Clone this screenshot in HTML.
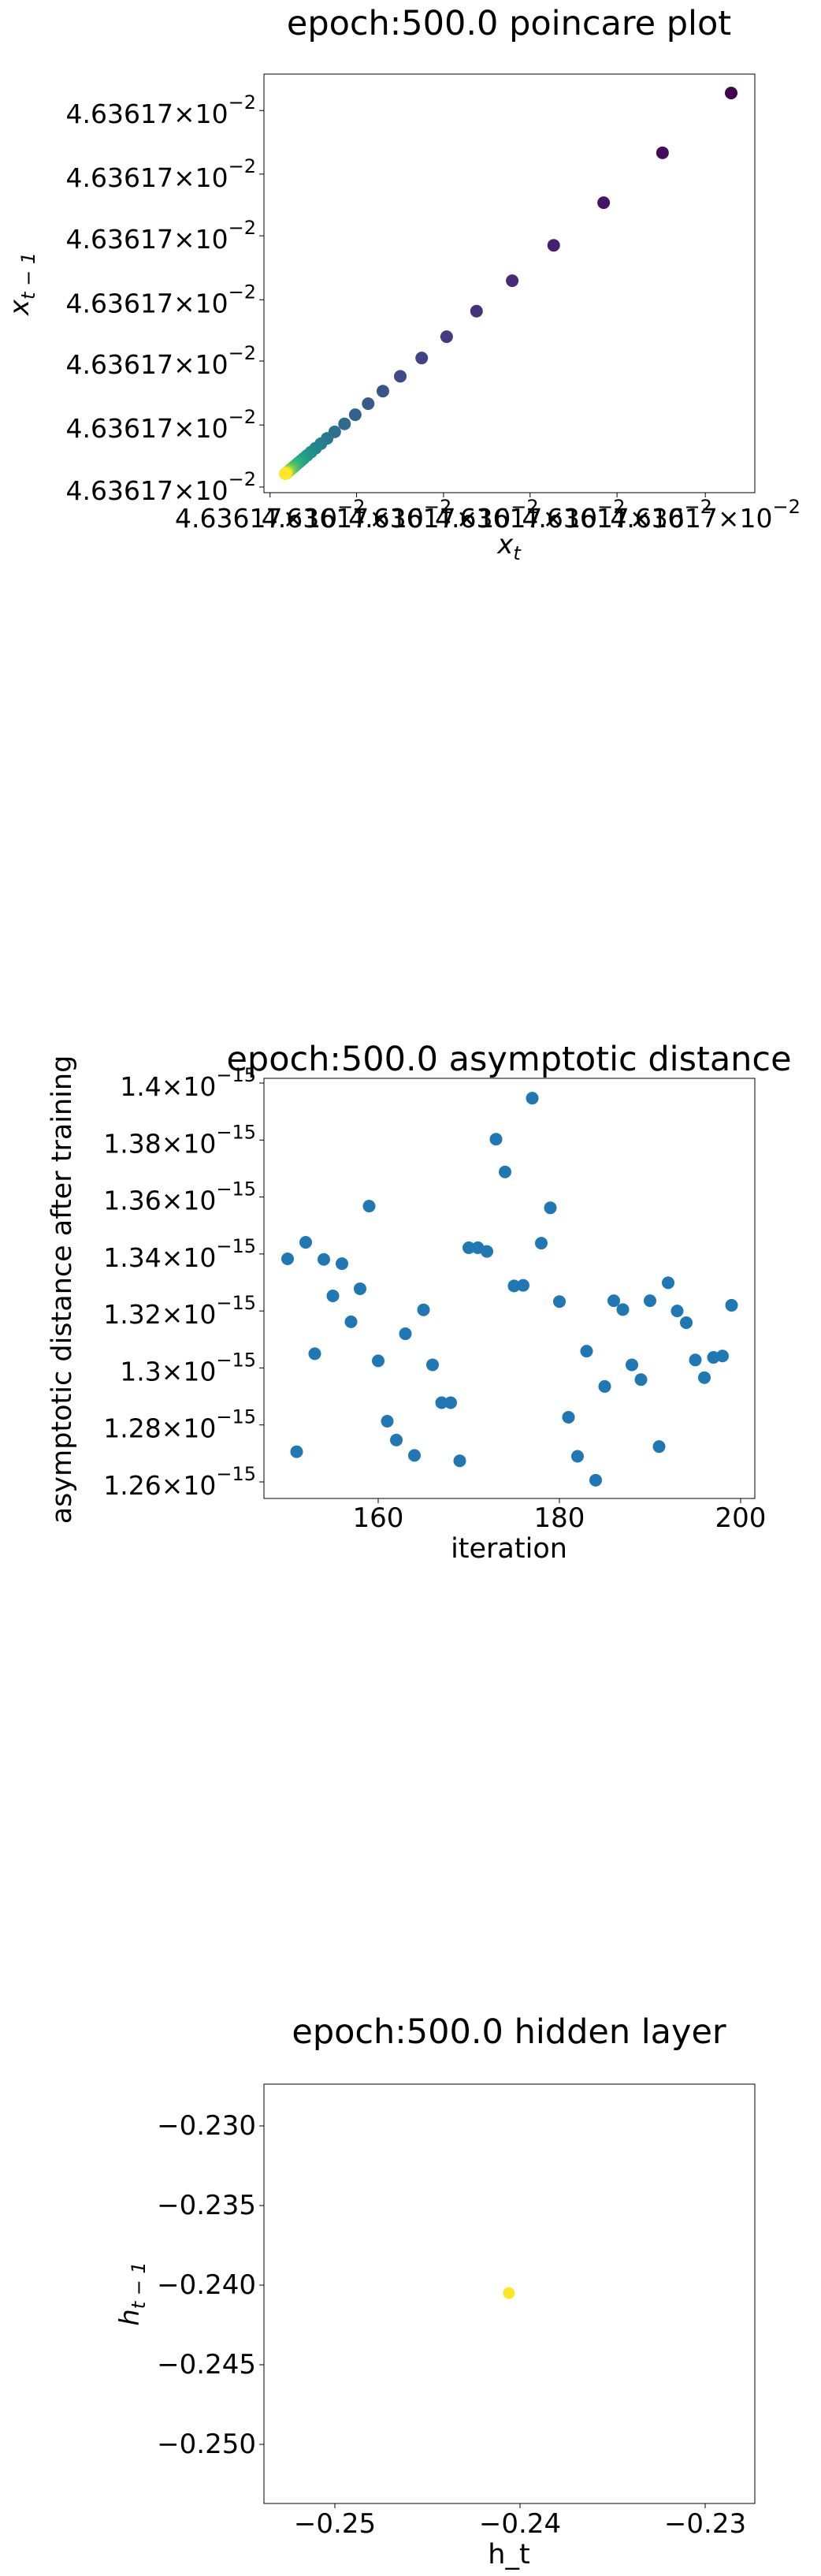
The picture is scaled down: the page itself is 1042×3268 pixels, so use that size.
<!DOCTYPE html>
<html><head><meta charset="utf-8"><style>
body{margin:0;background:#fff;}
svg{display:block;font-family:"DejaVu Sans","Liberation Sans",sans-serif;}
</style></head><body>
<svg id="fig" width="1042" height="3268" viewBox="0 0 1042 3268" xmlns="http://www.w3.org/2000/svg">
<rect width="1042" height="3268" fill="#fff"/>
<g id="p1"></g>
<g id="p2"></g>
<g id="p3"></g>
</svg>
<script>
// Plot 1 data (relative offsets of x_t within plotted range)
const poincareX = [1,0.846,0.714,0.602,0.509,0.429,0.362,0.306,0.258,0.219,0.186,0.157,0.133,0.111,0.094,0.08,0.068,0.058,0.049,0.041,0.035,0.03,0.025,0.021,0.018,0.015,0.012,0.01,0.008,0.006,0.005,0.004,0.003,0.002,0.001,0];
const poincareY = [1,0.843,0.712,0.6,0.507,0.427,0.36,0.304,0.256,0.217,0.184,0.155,0.131,0.11,0.093,0.079,0.067,0.057,0.048,0.04,0.034,0.029,0.024,0.02,0.017,0.014,0.011,0.009,0.007,0.005,0.004,0.003,0.002,0.001,0.0005,0];
const poincareXTicks = [-0.034,0.16,0.355,0.549,0.744,0.942];
const poincareYTicks = [0.954,0.787,0.625,0.457,0.296,0.128,-0.035];
// Plot 2 data
const iterations = [150,151,152,153,154,155,156,157,158,159,160,161,162,163,164,165,166,167,168,169,170,171,172,173,174,175,176,177,178,179,180,181,182,183,184,185,186,187,188,189,190,191,192,193,194,195,196,197,198,199];
const distances = [1.3383,1.2706,1.3441,1.3050,1.3381,1.3253,1.3366,1.3162,1.3278,1.3568,1.3025,1.2813,1.2747,1.3120,1.2693,1.3204,1.3011,1.2878,1.2878,1.2674,1.3422,1.3422,1.3409,1.3803,1.3688,1.3288,1.3290,1.3947,1.3438,1.3562,1.3233,1.2827,1.2690,1.3059,1.2606,1.2935,1.3236,1.3205,1.3011,1.2959,1.3236,1.2724,1.3299,1.3200,1.3159,1.3028,1.2966,1.3037,1.3042,1.3220];
const distYTicks = [1.26,1.28,1.30,1.32,1.34,1.36,1.38,1.40];
const distYLabels = ["1.26","1.28","1.3","1.32","1.34","1.36","1.38","1.4"];
const iterXTicks = [160,180,200];
// Plot 3 data
const hiddenX = [-0.2406];
const hiddenY = [-0.2405];
const hiddenXTicks = [-0.25,-0.24,-0.23];
const hiddenXLabels = ["\u22120.25","\u22120.24","\u22120.23"];
const hiddenYTicks = [-0.230,-0.235,-0.240,-0.245,-0.250];
const hiddenYLabels = ["\u22120.230","\u22120.235","\u22120.240","\u22120.245","\u22120.250"];

const NS="http://www.w3.org/2000/svg";
function mk(parent,tag,attrs,text){const e=document.createElementNS(NS,tag);for(const k in attrs)e.setAttribute(k,attrs[k]);if(text!==undefined)e.textContent=text;parent.appendChild(e);return e;}
const VIR=[[68,1,84],[72,40,120],[62,74,137],[49,104,142],[38,130,142],[31,158,137],[53,183,121],[109,205,89],[180,222,44],[253,231,37]];
function viridis(t){const p=t*(VIR.length-1);const i=Math.min(Math.floor(p),VIR.length-2);const f=p-i;const c=VIR[i].map((v,k)=>Math.round(v+(VIR[i+1][k]-v)*f));return `rgb(${c[0]},${c[1]},${c[2]})`;}
function lin(d0,d1,r0,r1){return v=>r0+(v-d0)/(d1-d0)*(r1-r0);}
function frame(g,x0,y0,x1,y1){const r=mk(g,'rect',{x:x0,y:y0,width:x1-x0,height:y1-y0,fill:'none',stroke:'#000','stroke-width':1});}
function sciLabel(g,x,y,anchor,mant,exp,name){
  const t=mk(g,'text',{x:x,y:y,'text-anchor':anchor,'font-size':33,'dominant-baseline':'central'});
  
  
  mk(t,'tspan',{},mant+"\u00d710");
  mk(t,'tspan',{'font-size':24,dy:-14},exp);
  return t;
}

// ---- Plot 1
(function(){
  const g=document.getElementById('p1');
  const X0=335,X1=958,Y0=94,Y1=625;
  const sx=lin(0,1,362,928), sy=lin(0,1,601,118);
  mk(g,'text',{x:646,y:44,'text-anchor':'middle','font-size':43,},'epoch:500.0 poincare plot');
  frame(g,X0,Y0,X1,Y1);
  poincareYTicks.forEach(v=>{const y=sy(v);
    const l=mk(g,'line',{x1:X0-6,x2:X0,y1:y,y2:y,stroke:'#000'});
    sciLabel(g,X0-10,y+4,'end','4.63617','\u22122','y-tick-label');});
  poincareXTicks.forEach((v,i)=>{const x=sx(v);
    const l=mk(g,'line',{x1:x,x2:x,y1:Y1,y2:Y1+6,stroke:'#000'});
    sciLabel(g,x,657,'middle','4.63617','\u22122','x-tick-label');});
  const xl=mk(g,'text',{x:646,y:702,'text-anchor':'middle','font-size':34,'font-style':'italic'},'x');
  
  mk(xl,'tspan',{'font-size':24,dy:8},'t');
  const yl=mk(g,'text',{x:0,y:0,'text-anchor':'middle','font-size':34,'font-style':'italic',transform:'translate(36,360) rotate(-90)'},'x');
  
  mk(yl,'tspan',{'font-size':24,dy:8},'t \u2212 1');
  const n=poincareX.length;
  poincareX.forEach((v,i)=>{const c=mk(g,'circle',{cx:sx(v),cy:sy(poincareY[i]),r:8,fill:viridis(i/(n-1))});
    });
})();

// ---- Plot 2
(function(){
  const g=document.getElementById('p2');
  const X0=335,X1=958,Y0=1368,Y1=1901;
  const sx=lin(160,200,480,940), sy=lin(1.26,1.40,1880,1374);
  mk(g,'text',{x:646,y:1358,'text-anchor':'middle','font-size':43,},'epoch:500.0 asymptotic distance');
  frame(g,X0,Y0,X1,Y1);
  distYTicks.forEach((v,i)=>{const y=sy(v);
    const l=mk(g,'line',{x1:X0-6,x2:X0,y1:y,y2:y,stroke:'#000'});
    sciLabel(g,X0-10,y+4,'end',distYLabels[i],'\u221215','y-tick-label');});
  iterXTicks.forEach(v=>{const x=sx(v);
    const l=mk(g,'line',{x1:x,x2:x,y1:Y1,y2:Y1+6,stroke:'#000'});
    const t=mk(g,'text',{x:x,y:1926,'text-anchor':'middle','font-size':34,'dominant-baseline':'central'},String(v));
    });
  mk(g,'text',{x:646,y:1976,'text-anchor':'middle','font-size':35,},'iteration');
  mk(g,'text',{x:0,y:0,'text-anchor':'middle','font-size':35,transform:'translate(90,1636) rotate(-90)',},'asymptotic distance after training');
  iterations.forEach((it,i)=>{const c=mk(g,'circle',{cx:sx(it),cy:sy(distances[i]),r:8,fill:'#1f77b4'});
    });
})();

// ---- Plot 3
(function(){
  const g=document.getElementById('p3');
  const X0=335,X1=958,Y0=2644,Y1=3176;
  const sx=lin(-0.25,-0.23,425,895), sy=lin(-0.23,-0.25,2697,3101);
  mk(g,'text',{x:646,y:2592,'text-anchor':'middle','font-size':43,},'epoch:500.0 hidden layer');
  frame(g,X0,Y0,X1,Y1);
  hiddenYTicks.forEach((v,i)=>{const y=sy(v);
    const l=mk(g,'line',{x1:X0-6,x2:X0,y1:y,y2:y,stroke:'#000'});
    const t=mk(g,'text',{x:X0-10,y:y,'text-anchor':'end','font-size':34,'dominant-baseline':'central'},hiddenYLabels[i]);
    });
  hiddenXTicks.forEach((v,i)=>{const x=sx(v);
    const l=mk(g,'line',{x1:x,x2:x,y1:Y1,y2:Y1+6,stroke:'#000'});
    const t=mk(g,'text',{x:x,y:3202,'text-anchor':'middle','font-size':34,'dominant-baseline':'central'},hiddenXLabels[i]);
    });
  mk(g,'text',{x:646,y:3252,'text-anchor':'middle','font-size':35,},'h_t');
  const yl=mk(g,'text',{x:0,y:0,'text-anchor':'middle','font-size':34,'font-style':'italic',transform:'translate(176,2910) rotate(-90)'},'h');
  
  mk(yl,'tspan',{'font-size':24,dy:8},'t \u2212 1');
  hiddenX.forEach((v,i)=>{const c=mk(g,'circle',{cx:sx(v),cy:sy(hiddenY[i]),r:7.5,fill:'#fde725'});
    });
})();
</script>
</body></html>
